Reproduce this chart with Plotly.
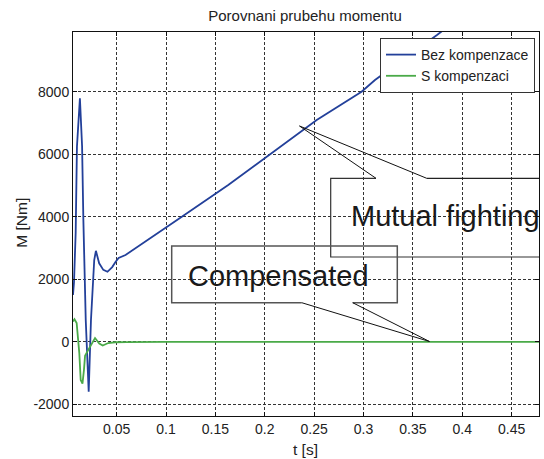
import plotly.graph_objects as go

# ---- data ----
t_bez = [0.0058, 0.0068, 0.0085, 0.0098, 0.0128, 0.0140, 0.0150, 0.0163, 0.0187, 0.0217,
         0.0240, 0.0273, 0.0290, 0.0323, 0.0365, 0.0407, 0.0455, 0.0490, 0.0520, 0.0590,
         0.0990, 0.1160, 0.1630, 0.2053, 0.2256, 0.2526, 0.2980, 0.3116, 0.3744, 0.3800]
m_bez = [1500, 1900, 3480, 6240, 7790, 7095, 6260, 3896, 697, -1600,
         697, 2616, 2910, 2511, 2300, 2240, 2390, 2560, 2680, 2776,
         3650, 4000, 5016, 6000, 6455, 7095, 8000, 8375, 9814, 9950]

t_s = [0.0058, 0.0073, 0.0095, 0.0122, 0.0136, 0.0154, 0.0169, 0.0180, 0.0200, 0.0230,
       0.0281, 0.0324, 0.0359, 0.0415, 0.0483, 0.0600, 0.1000, 0.2000, 0.3000, 0.4000, 0.4777]
m_s = [650, 720, 600, -370, -1220, -1340, -900, -450, -330, -155,
       120, -60, -120, -40, -15, -10, 0, 0, 0, 0, 0]

x_ticks = [0.05, 0.1, 0.15, 0.2, 0.25, 0.3, 0.35, 0.4, 0.45]
x_tick_text = ["0.05", "0.1", "0.15", "0.2", "0.25", "0.3", "0.35", "0.4", "0.45"]
y_ticks = [-2000, 0, 2000, 4000, 6000, 8000]
y_tick_text = ["-2000", "0", "2000", "4000", "6000", "8000"]

series_names = ["Bez kompenzace", "S kompenzaci"]
title_text = "Porovnani prubehu momentu"
x_title = "t [s]"
y_title = "M [Nm]"
callout_texts = ["Mutual fighting", "Compensated"]

# ---- layout geometry (pixels) ----
W, H = 544, 459
L, R, T, B = 73, 5, 32, 43
PW, PH = W - L - R, H - T - B
FONT = "Liberation Sans, Arial, sans-serif"


def px(x):
    return (x - L) / PW


def py(y):
    return (H - B - y) / PH


def path(points, close=False):
    s = "M " + " L ".join(f"{px(x):.5f},{py(y):.5f}" for x, y in points)
    return s + (" Z" if close else "")


fig = go.Figure()
fig.add_trace(go.Scatter(x=t_bez, y=m_bez, mode="lines", name=series_names[0],
                         line=dict(color="#23409a", width=1.8)))
fig.add_trace(go.Scatter(x=t_s, y=m_s, mode="lines", name=series_names[1],
                         line=dict(color="#4aaa48", width=1.8)))

axis_common = dict(
    showline=True, linecolor="#111", linewidth=1, mirror="ticks",
    ticks="inside", ticklen=4, tickcolor="#111",
    showgrid=True, gridcolor="#333", gridwidth=1, griddash="3px,2px",
    zeroline=False, tickfont=dict(family=FONT, size=14, color="#222"),
    automargin=False,
)

fig.update_xaxes(range=[0.0058, 0.4777], tickvals=x_ticks, ticktext=x_tick_text, **axis_common)
fig.update_yaxes(range=[-2374, 9910], tickvals=y_ticks, ticktext=y_tick_text, **axis_common)

shapes = [
    # Mutual fighting callout box
    dict(type="path", xref="paper", yref="paper", layer="above",
         path=path([(539, 257), (330.7, 257), (330.7, 178.3), (376, 178.3)]),
         line=dict(color="#333", width=1.2)),
    dict(type="path", xref="paper", yref="paper", layer="above",
         path=path([(426.7, 178.3), (539, 178.3)]),
         line=dict(color="#222", width=1.2)),
    dict(type="path", xref="paper", yref="paper", layer="above",
         path=path([(376, 178.3), (299.5, 126), (426.7, 178.3)]),
         line=dict(color="#111", width=1)),
    # Compensated callout box
    dict(type="path", xref="paper", yref="paper", layer="above",
         path=path([(301.7, 302.7), (171.7, 302.7), (171.7, 246), (397.3, 246),
                    (397.3, 302.7), (352.7, 302.7)]),
         line=dict(color="#555", width=1.5)),
    dict(type="path", xref="paper", yref="paper", layer="above",
         path=path([(301.7, 302.7), (429.5, 341.5), (352.7, 302.7)]),
         line=dict(color="#111", width=1)),
]

annotations = [
    dict(text=x_title, xref="paper", yref="paper", x=px(305.5), y=py(449.3),
         xanchor="center", yanchor="middle", showarrow=False,
         font=dict(family=FONT, size=15.5, color="#222")),
    dict(text=y_title, xref="paper", yref="paper", x=px(20.7), y=py(223),
         xanchor="center", yanchor="middle", showarrow=False, textangle=-90,
         font=dict(family=FONT, size=15.5, color="#222")),
    dict(text=callout_texts[0], xref="paper", yref="paper", x=px(348.5), y=py(216),
         xanchor="left", yanchor="middle", showarrow=False,
         font=dict(family=FONT, size=29, color="#1a1a1a")),
    dict(text=callout_texts[1], xref="paper", yref="paper", x=px(186), y=py(275.5),
         xanchor="left", yanchor="middle", showarrow=False,
         font=dict(family=FONT, size=29, color="#1a1a1a")),
]

fig.update_layout(
    width=W, height=H,
    margin=dict(l=L, r=R, t=T, b=B, pad=0, autoexpand=False),
    paper_bgcolor="white", plot_bgcolor="white",
    title=dict(text=title_text, x=px(305), xref="paper", xanchor="center",
               y=1 - 15.6 / H, yanchor="middle",
               font=dict(family=FONT, size=15, color="#222")),
    legend=dict(x=px(535), y=py(38), xanchor="right", yanchor="top",
                bgcolor="white", bordercolor="#333", borderwidth=1,
                font=dict(family=FONT, size=14, color="#222"),
                tracegroupgap=0),
    shapes=shapes,
    annotations=annotations,
    showlegend=True,
)

fig.write_html("out.html", config={"displayModeBar": False},
               post_script="document.body.style.margin='0';document.body.style.overflow='hidden';")
